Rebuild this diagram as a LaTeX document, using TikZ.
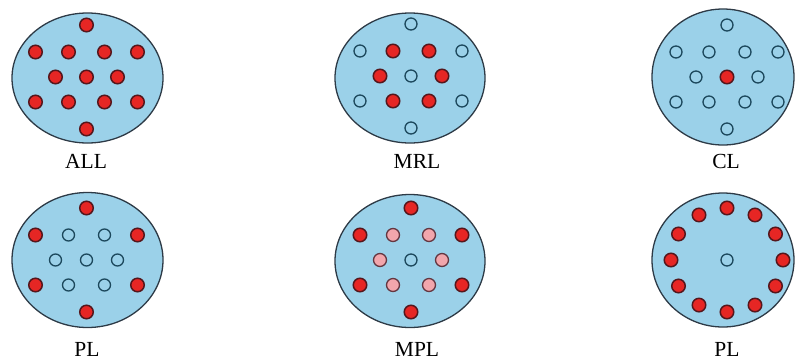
\documentclass[tikz,border=0pt]{standalone}
\usepackage{fontspec}
\setmainfont{Liberation Serif}
\usetikzlibrary{shapes.geometric}
\definecolor{skyfill}{RGB}{155,209,233}
\definecolor{rimcol}{RGB}{45,58,70}
\definecolor{dotred}{RGB}{230,38,36}
\definecolor{reddark}{RGB}{85,22,28}
\definecolor{dotpink}{RGB}{242,166,172}
\definecolor{pinkdark}{RGB}{100,55,65}
\definecolor{holline}{RGB}{28,72,92}
\newcommand\dotpanel[4]{%
  \foreach [count=\i] \s in {#4} {%
    \pgfmathsetmacro\dx{{0,-51,-18,18,51,-31,0,31,-51,-18,18,51,0}[\i-1]}%
    \pgfmathsetmacro\dy{{-52,-25,-25,-25,-25,0,0,0,25,25,25,25,52}[\i-1]}%
    \pgfmathsetmacro\px{#2+(\dx)}%
    \pgfmathsetmacro\py{#3+(\dy)}%
    \edef\tmpdot{\noexpand\node[\s] (#1-\i) at (\px,\py) {};}%
    \tmpdot
  }%
}
\begin{document}
\begin{tikzpicture}[x=1pt,y=-1pt,
  disk/.style={ellipse, draw=rimcol, line width=1.3pt, fill=skyfill, inner sep=0pt},
  rd/.style={circle, draw=reddark, line width=1.5pt, fill=dotred, minimum size=13.5pt, inner sep=0pt},
  pk/.style={circle, draw=pinkdark, line width=1.3pt, fill=dotpink, minimum size=13pt, inner sep=0pt},
  ho/.style={circle, draw=holline, line width=1.3pt, fill=skyfill, minimum size=12pt, inner sep=0pt},
  lab/.style={font=\fontsize{21.5}{25}\selectfont, anchor=base, inner sep=0pt}]
\useasboundingbox (0,0) rectangle (795,360);
% top row
\node[disk, minimum width=151pt, minimum height=130pt] (E1) at (87.5,78) {};
\node[disk, minimum width=150pt, minimum height=130pt] (E2) at (410,78) {};
\node[disk, minimum width=142pt, minimum height=136pt] (E3) at (723,77) {};
\dotpanel{a}{86.5}{77}{rd,rd,rd,rd,rd,rd,rd,rd,rd,rd,rd,rd,rd}
\dotpanel{b}{411}{76}{ho,ho,rd,rd,ho,rd,ho,rd,ho,rd,rd,ho,ho}
\dotpanel{c}{727}{77}{ho,ho,ho,ho,ho,ho,rd,ho,ho,ho,ho,ho,ho}
\node[lab] (L1) at (86,168) {ALL};
\node[lab] (L2) at (417,168) {MRL};
\node[lab] (L3) at (726,168) {CL};
% bottom row
\node[disk, minimum width=151pt, minimum height=135pt] (E4) at (87.5,260) {};
\node[disk, minimum width=150pt, minimum height=133pt] (E5) at (410,261) {};
\node[disk, minimum width=142pt, minimum height=134pt] (E6) at (723,260) {};
\dotpanel{d}{86.5}{260}{rd,rd,ho,ho,rd,ho,ho,ho,rd,ho,ho,rd,rd}
\dotpanel{e}{411}{260}{rd,rd,pk,pk,rd,pk,ho,pk,rd,pk,pk,rd,rd}
\foreach \k in {0,...,11} {
  \node[rd] (f-\k) at ({727+56*sin(30*\k)},{260-52*cos(30*\k)}) {};
}
\node[ho] (f-c) at (727,260) {};
\node[lab] (L4) at (87,356) {PL};
\node[lab] (L5) at (417,356) {MPL};
\node[lab] (L6) at (727,356) {PL};
\end{tikzpicture}
\end{document}
